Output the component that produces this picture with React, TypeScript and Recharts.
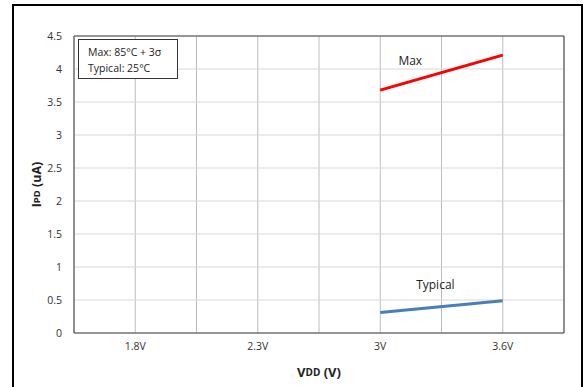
import React from "react";
import {
  LineChart,
  Line,
  XAxis,
  YAxis,
  CartesianGrid,
  ReferenceArea,
  ReferenceDot,
  Label,
} from "recharts";

const categories = ["1.8V", "2.3V", "3V", "3.6V"];
const maxValues: (number | null)[] = [null, null, 3.68, 4.21];
const typicalValues: (number | null)[] = [null, null, 0.31, 0.49];
const yTicks = [0, 0.5, 1, 1.5, 2, 2.5, 3, 3.5, 4, 4.5];
const categoryPositions = [1, 3, 5, 7];
const gridPositions = [0, 1, 2, 3, 4, 5, 6, 7, 8];
const legendLines = ["Max: 85°C + 3σ", "Typical: 25°C"];
const maxLabel = { x: 5.49, y: 4.12, text: "Max" };
const typicalLabel = { x: 5.9, y: 0.73, text: "Typical" };

const data = categories.map((c, i) => ({
  pos: categoryPositions[i],
  cat: c,
  max: maxValues[i],
  typical: typicalValues[i],
}));

const FONT = "'Open Sans', 'Noto Sans', sans-serif";

const YTitle = (props: any) => {
  const vb = props.viewBox || {};
  const cx = 36;
  const cy = vb.y + vb.height / 2;
  return (
    <text
      x={cx}
      y={cy}
      transform={`rotate(-90 ${cx} ${cy})`}
      textAnchor="middle"
      dominantBaseline="central"
      fontFamily={FONT}
      fontWeight="bold"
      fontSize={12.5}
      fill="#222"
    >
      <tspan>I</tspan>
      <tspan fontSize={9.5}>PD</tspan>
      <tspan> (uA)</tspan>
    </text>
  );
};

const XTitle = (props: any) => {
  const vb = props.viewBox || {};
  const cx = vb.x + vb.width / 2;
  return (
    <text
      x={cx}
      y={372}
      textAnchor="middle"
      dominantBaseline="central"
      fontFamily={FONT}
      fontWeight="bold"
      fontSize={13}
      fill="#222"
    >
      <tspan>V</tspan>
      <tspan fontSize={10}>DD</tspan>
      <tspan> (V)</tspan>
    </text>
  );
};

export default function App() {
  return (
    <div
      style={{
        position: "fixed",
        left: 0,
        top: 0,
        width: 587,
        height: 387,
        background: "#fff",
        overflow: "hidden",
      }}
    >
      <div
        style={{
          position: "absolute",
          left: 12,
          top: 4,
          width: 567,
          height: 420,
          border: "2px solid #000",
        }}
      />
      <div style={{ position: "absolute", left: 0, top: 0 }}>
        <LineChart
          width={587}
          height={387}
          data={data}
          margin={{ top: 36, right: 23, bottom: 24, left: 34 }}
        >
          <CartesianGrid
            xAxisId="grid"
            horizontal={false}
            vertical={true}
            stroke="#bdbdbd"
            strokeWidth={1}
          />
          <CartesianGrid
            horizontal={true}
            vertical={false}
            stroke="#d9d9d9"
            strokeWidth={1}
          />
          <XAxis
            xAxisId="grid"
            type="number"
            dataKey="pos"
            domain={[0, 8]}
            ticks={gridPositions}
            hide
          />
          <XAxis
            type="number"
            dataKey="pos"
            domain={[0, 8]}
            ticks={categoryPositions}
            tickFormatter={(v: number) => categories[categoryPositions.indexOf(v)] ?? ""}
            tickLine={false}
            axisLine={false}
            tickSize={0}
            tickMargin={10}
            height={30}
            tick={{ fontFamily: FONT, fontSize: 10.5, fill: "#333" }}
            interval={0}
          >
            <Label content={<XTitle />} />
          </XAxis>
          <YAxis
            type="number"
            domain={[0, 4.5]}
            ticks={yTicks}
            tickFormatter={(v: number) => String(v)}
            tickLine={false}
            axisLine={false}
            tickSize={0}
            tickMargin={12}
            width={40}
            tick={{ fontFamily: FONT, fontSize: 10.5, fill: "#333" }}
            interval={0}
          >
            <Label content={<YTitle />} />
          </YAxis>
          <ReferenceArea
            x1={0}
            x2={8}
            y1={0}
            y2={4.5}
            fill="none"
            stroke="#404040"
            strokeWidth={1}
            ifOverflow="extendDomain"
          />
          <Line
            type="linear"
            dataKey="max"
            stroke="#ff0000"
            strokeWidth={3}
            dot={false}
            activeDot={false}
            isAnimationActive={false}
          />
          <Line
            type="linear"
            dataKey="typical"
            stroke="#4a7ebb"
            strokeWidth={3}
            dot={false}
            activeDot={false}
            isAnimationActive={false}
          />
          <ReferenceDot
            x={maxLabel.x}
            y={maxLabel.y}
            r={0}
            fill="none"
            stroke="none"
            label={{
              value: maxLabel.text,
              position: "center",
              fontFamily: FONT,
              fontSize: 12,
              fill: "#222",
            }}
          />
          <ReferenceDot
            x={typicalLabel.x}
            y={typicalLabel.y}
            r={0}
            fill="none"
            stroke="none"
            label={{
              value: typicalLabel.text,
              position: "center",
              fontFamily: FONT,
              fontSize: 12,
              fill: "#222",
            }}
          />
        </LineChart>
      </div>
      <div
        style={{
          position: "absolute",
          left: 78,
          top: 39,
          width: 100,
          height: 40,
          border: "1px solid #333",
          background: "#fff",
          fontFamily: FONT,
          fontSize: 10.5,
          color: "#222",
          lineHeight: "16px",
          padding: "4px 0 0 9px",
          boxSizing: "border-box",
        }}
      >
        {legendLines.map((l) => (
          <div key={l}>{l}</div>
        ))}
      </div>
    </div>
  );
}
